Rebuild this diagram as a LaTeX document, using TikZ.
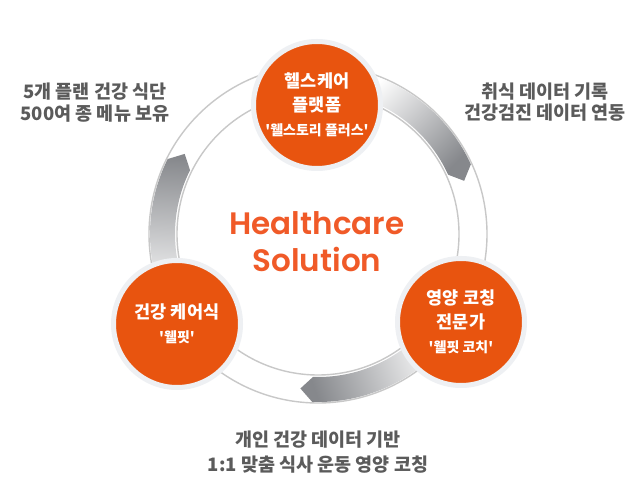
\documentclass[tikz,border=0pt]{standalone}
\usepackage{fontspec}
\newfontfamily\krfont{Noto Sans CJK KR}
\newfontfamily\titlefont{Poppins SemiBold}
\usetikzlibrary{calc}

\definecolor{hcOrange}{HTML}{E8540F}
\definecolor{hcTitle}{HTML}{F05A28}
\definecolor{hcHalo}{HTML}{EEF0F3}
\definecolor{hcRing}{HTML}{C8C8C8}
\definecolor{hcArrow}{HTML}{86888C}
\definecolor{hcText}{HTML}{5B5B5B}

\newcommand{\tagline}[1]{{\fontsize{14}{20}\selectfont #1}}

\begin{document}
\begin{tikzpicture}[x=1pt, y=1pt,
    bubble/.style={circle, fill=hcOrange, draw=hcHalo, line width=5pt,
        minimum size=127pt, inner sep=0pt, text=white, align=center,
        font=\krfont\bfseries\fontsize{17.5}{24}\selectfont},
    note/.style={text=hcText, align=center,
        font=\krfont\bfseries\fontsize{18.5}{21.5}\selectfont},
    ring/.style={draw=hcRing, line width=1.4pt},
    flow/.style={top color=white, bottom color=hcArrow}]
    % Definitions
    \coordinate (C) at (318,264);
    \fill[white] (0,0) rectangle (640,498);
    \useasboundingbox (0,0) rectangle (640,498);
    % Ring
    \draw[ring] (C) circle[radius=141pt];
    \draw[ring] (C) circle[radius=169pt];
    % Arrows (clockwise)
    \shade[flow, shading angle=45]  ($(C)+(75:168pt)$)  arc[start angle=75,  end angle=24.5,  radius=168pt]
        -- ($(C)+(20:155.5pt)$)  -- ($(C)+(24.5:143pt)$)  arc[start angle=24.5,  end angle=75,  radius=143pt] -- cycle;
    \shade[flow, shading angle=-70] ($(C)+(320:168pt)$) arc[start angle=320, end angle=268,   radius=168pt]
        -- ($(C)+(263.5:155.5pt)$) -- ($(C)+(268:143pt)$)   arc[start angle=268,   end angle=320, radius=143pt] -- cycle;
    \shade[flow, shading angle=177] ($(C)+(205:168pt)$) arc[start angle=205, end angle=153.5, radius=168pt]
        -- ($(C)+(149:155.5pt)$) -- ($(C)+(153.5:143pt)$) arc[start angle=153.5, end angle=205, radius=143pt] -- cycle;
    % Bubbles
    \node[bubble] (platform) at (317,393) {헬스케어\\플랫폼\\\tagline{'웰스토리 플러스'}};
    \node[bubble] (care)     at (177,174) {건강 케어식\\\tagline{'웰핏'}};
    \node[bubble] (coaching) at (461,176) {영양 코칭\\전문가\\\tagline{'웰핏 코치'}};
    % Title
    \node[text=hcTitle, font=\titlefont\fontsize{31}{37}\selectfont, anchor=base] (title1) at (317,263) {Healthcare};
    \node[text=hcTitle, font=\titlefont\fontsize{31}{37}\selectfont, anchor=base] (title2) at (317,226) {Solution};
    % Notes
    \node[note] (menu)   at (95,395.5) {5개 플랜 건강 식단\\500여 종 메뉴 보유};
    \node[note] (record) at (545,396)  {취식 데이터 기록\\건강검진 데이터 연동};
    \node[note, font=\krfont\bfseries\fontsize{18.5}{25}\selectfont] (plan) at (318,45.5) {개인 건강 데이터 기반\\1:1 맞춤 식사 운동 영양 코칭};
\end{tikzpicture}
\end{document}
